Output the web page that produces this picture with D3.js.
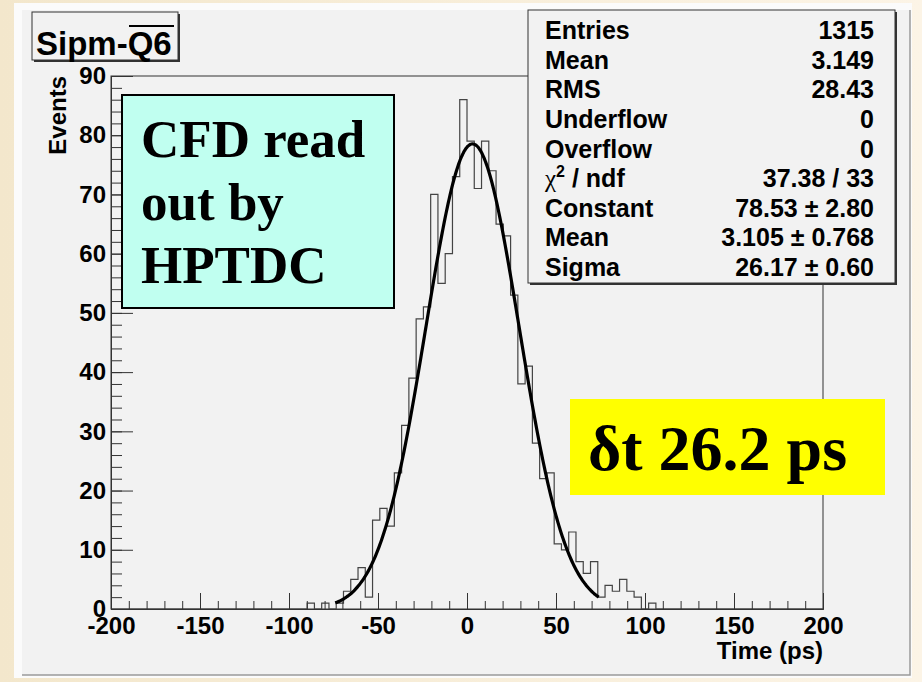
<!DOCTYPE html>
<html lang="en">
<head>
<meta charset="UTF-8">
<title>Sipm-Q6</title>
<script src="https://cdn.jsdelivr.net/npm/d3@7"></script>
<style>
   html, body { margin: 0; padding: 0; overflow: hidden; }
   text { font-family: "Liberation Sans", Arial, sans-serif; font-weight: bold; fill: #000; }
   .serif { font-family: "Liberation Serif", "Times New Roman", serif; }
   .axis path, .axis line { stroke: #333; }
</style>
</head>
<body>
<svg id="chart"></svg>
<script>
   // histogram: 98 bins over [-200, 200] ps
   const histRange = [-200, 200]
   const counts = [
      0, 0, 0, 0, 0, 0, 0, 0, 0, 0, 0, 0, 0, 0, 0, 0, 0, 0, 0, 0, 0, 0, 0, 0, 0, 0, 0,
      1, 0, 1, 0, 1, 3, 5, 7, 2, 15, 17, 14, 23, 31, 39, 49, 51, 70, 55, 60, 73, 86,
      79, 71, 79, 74, 65, 63, 53, 38, 41, 28, 22, 23, 11, 10, 13, 8, 6, 8, 2, 4, 3, 5, 3, 2, 0, 1,
      0, 0, 0, 0, 0, 0, 0, 0, 0, 0, 0, 0, 0, 0, 0, 0, 0, 0, 0, 0, 0, 0, 0
   ]

   // gaussian fit
   const fitConstant = 78.53
   const fitMean = 3.105
   const fitSigma = 26.17
   const fitRange = [-74, 74]

   // axes
   const xTicks = [-200, -150, -100, -50, 0, 50, 100, 150, 200]
   const yTicks = [0, 10, 20, 30, 40, 50, 60, 70, 80, 90]
   const yMax = 90

   // stats box
   const statNames = ['Entries', 'Mean', 'RMS', 'Underflow', 'Overflow', 'χ2 / ndf', 'Constant', 'Mean', 'Sigma']
   const statValues = ['1315', '3.149', '28.43', '0', '0', '37.38 / 33', '78.53 \u00b1 2.80', '3.105 \u00b1 0.768', '26.17 \u00b1 0.60']

   const noteLines = ['CFD read', 'out by', 'HPTDC']
   const resultText = '\u03b4t 26.2 ps'

   const W = 922, H = 682
   const svg = d3.select('#chart').attr('width', W).attr('height', H)

   // slide background + canvas
   const defs = svg.append('defs')
   const grad = defs.append('linearGradient').attr('id', 'bg')
   grad.append('stop').attr('offset', '0%').attr('stop-color', '#f3e7cc')
   grad.append('stop').attr('offset', '100%').attr('stop-color', '#fcf4e6')
   svg.append('rect').attr('width', W).attr('height', H).attr('fill', 'url(#bg)')

   svg.append('rect').attr('x', 14).attr('y', 3).attr('width', 898).attr('height', 675).attr('fill', '#fbfbfb')
   svg.append('rect').attr('x', 22).attr('y', 10).attr('width', 888).attr('height', 665).attr('fill', '#f2f2f2')
   svg.append('path').attr('d', 'M22,675 H910 V10').attr('fill', 'none').attr('stroke', '#9a9a9a').attr('stroke-width', 1.5)

   const frame = { left: 111, right: 823, top: 76, bottom: 609 }

   const x = d3.scaleLinear().domain(histRange).range([frame.left, frame.right])
   const y = d3.scaleLinear().domain([0, yMax]).range([frame.bottom, frame.top])

   // frame
   svg.append('rect')
      .attr('x', frame.left).attr('y', frame.top)
      .attr('width', frame.right - frame.left).attr('height', frame.bottom - frame.top)
      .attr('fill', 'none').attr('stroke', '#333')

   // histogram outline
   const binW = (histRange[1] - histRange[0]) / counts.length
   const steps = counts.map((c, i) => [histRange[0] + i * binW, c])
   steps.push([histRange[1], counts[counts.length - 1]])
   svg.append('path')
      .datum(steps)
      .attr('fill', 'none')
      .attr('stroke', '#444')
      .attr('stroke-width', 1.2)
      .attr('d', d3.line().x(d => x(d[0])).y(d => y(d[1])).curve(d3.curveStepAfter))

   // fit curve
   const gauss = v => fitConstant * Math.exp(-0.5 * ((v - fitMean) / fitSigma) ** 2)
   const fitPts = d3.range(fitRange[0], fitRange[1] + 0.01, 0.5)
   svg.append('path')
      .datum(fitPts)
      .attr('fill', 'none')
      .attr('stroke', '#000')
      .attr('stroke-width', 3.2)
      .attr('d', d3.line().x(d => x(d)).y(d => y(gauss(d))).curve(d3.curveMonotoneX))

   // plain hyphen for negatives, like the original
   const fmt = d => String(d)

   // x axis
   const xAxisG = svg.append('g').attr('class', 'axis')
      .attr('transform', `translate(0, ${frame.bottom})`)
   xAxisG.call(d3.axisBottom(x).tickValues(d3.range(-200, 201, 10)).tickSize(-8).tickFormat(''))
   xAxisG.append('g').call(d3.axisBottom(x).tickValues(xTicks).tickFormat(fmt).tickSizeInner(-16).tickSizeOuter(0).tickPadding(8))
   xAxisG.selectAll('text').attr('font-size', 24).attr('fill', '#000')
   xAxisG.selectAll('.domain').attr('stroke', '#333')

   svg.append('text')
      .attr('x', frame.right).attr('y', 659)
      .attr('text-anchor', 'end').attr('font-size', 24)
      .text('Time (ps)')

   // y axis
   const yAxisG = svg.append('g').attr('class', 'axis')
      .attr('transform', `translate(${frame.left}, 0)`)
   yAxisG.call(d3.axisLeft(y).tickValues(d3.range(0, yMax + 1, 2)).tickSize(-11).tickFormat(''))
   yAxisG.append('g').call(d3.axisLeft(y).tickValues(yTicks).tickFormat(fmt).tickSizeInner(-22).tickSizeOuter(0).tickPadding(5))
   yAxisG.selectAll('text').attr('font-size', 24).attr('fill', '#000')

   svg.append('text')
      .attr('transform', `translate(66, ${frame.top}) rotate(-90)`)
      .attr('text-anchor', 'end').attr('font-size', 24)
      .text('Events')

   // title box
   svg.append('rect').attr('x', 34).attr('y', 14).attr('width', 146).attr('height', 48).attr('fill', '#333')
   svg.append('rect').attr('x', 32).attr('y', 12).attr('width', 146).attr('height', 48)
      .attr('fill', '#f2f2f2').attr('stroke', '#333')
   const title = svg.append('text').attr('x', 36).attr('y', 55).attr('font-size', 33)
   title.append('tspan').text('Sipm-')
   title.append('tspan').text('Q6')
   svg.append('line').attr('x1', 129).attr('x2', 174).attr('y1', 26).attr('y2', 26)
      .attr('stroke', '#000').attr('stroke-width', 2)

   // stats box
   const sb = { x: 528, y: 10, w: 367, h: 273 }
   svg.append('rect').attr('x', sb.x + 2).attr('y', sb.y + 2).attr('width', sb.w).attr('height', sb.h).attr('fill', '#333')
   svg.append('rect').attr('x', sb.x).attr('y', sb.y).attr('width', sb.w).attr('height', sb.h)
      .attr('fill', '#f2f2f2').attr('stroke', '#333')
   const rowY = d3.scalePoint().domain(d3.range(statNames.length)).range([39, 276])
   statNames.forEach((name, i) => {
      const t = svg.append('text').attr('x', 545).attr('y', rowY(i)).attr('font-size', 25)
      if (name.startsWith('χ')) {
         t.append('tspan').attr('class', 'serif').attr('font-weight', 'normal').text('χ')
         t.append('tspan').attr('font-size', 16).attr('dy', -10).text('2')
         t.append('tspan').attr('dy', 10).text(' / ndf')
      } else {
         t.text(name)
      }
      svg.append('text').attr('x', 874).attr('y', rowY(i)).attr('text-anchor', 'end')
         .attr('font-size', 25).text(statValues[i])
   })

   // note box
   svg.append('rect').attr('x', 122).attr('y', 95).attr('width', 272).attr('height', 213)
      .attr('fill', '#c0fff0').attr('stroke', '#000').attr('stroke-width', 2)
   noteLines.forEach((line, i) => {
      svg.append('text').attr('class', 'serif').attr('x', 141).attr('y', 157 + i * 63)
         .attr('font-size', 53).text(line)
   })

   // result box
   svg.append('rect').attr('x', 570).attr('y', 399).attr('width', 315).attr('height', 96).attr('fill', '#ffff00')
   svg.append('text').attr('class', 'serif').attr('x', 588).attr('y', 470)
      .attr('font-size', 64).text(resultText)
</script>
</body>
</html>
